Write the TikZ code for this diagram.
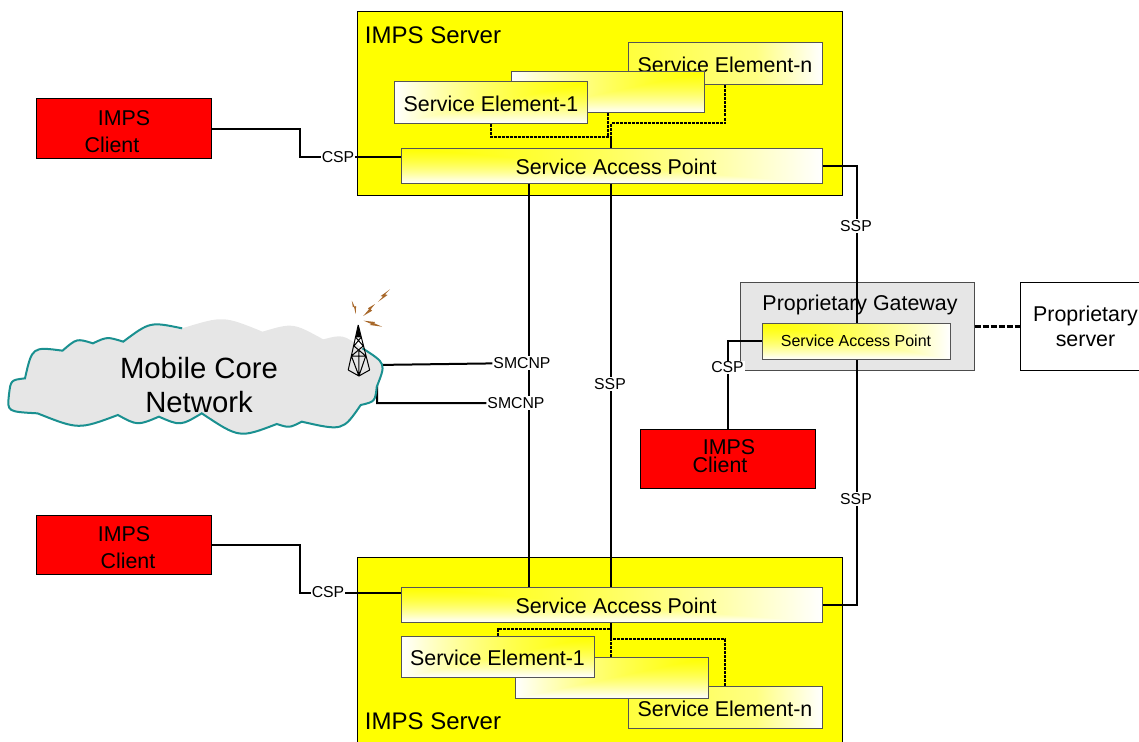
\documentclass[tikz,border=0pt]{standalone}
\usepackage{fontspec}
\setmainfont{Liberation Sans}
\pgfdeclarefunctionalshading{sapshade}{\pgfpoint{-50bp}{-50bp}}{\pgfpoint{50bp}{50bp}}{}{
  25 sub neg 50 div exch 25 add 50 div 2 copy lt {exch} if pop dup dup mul add 2 div 1 1 3 -1 roll }
\pgfdeclarefunctionalshading{elemshade}{\pgfpoint{-50bp}{-50bp}}{\pgfpoint{50bp}{50bp}}{}{
  25 sub neg 50 div exch 25 sub neg 50 div 2 copy lt {exch} if pop dup dup mul add 2 div 1 1 3 -1 roll }
\definecolor{srvyellow}{RGB}{255,255,0}
\definecolor{lastyellow}{RGB}{255,255,60}
\definecolor{lastpale}{RGB}{255,255,130}
\definecolor{clired}{RGB}{255,0,0}
\pgfdeclarehorizontalshading{lastshade}{100bp}{color(0bp)=(lastyellow); color(25bp)=(lastyellow); color(58bp)=(lastpale); color(75bp)=(white); color(100bp)=(white)}
\definecolor{boxline}{HTML}{555555}
\definecolor{cloudgray}{HTML}{E6E6E6}
\definecolor{cloudteal}{HTML}{1A9090}
\definecolor{boltbrown}{HTML}{A8682A}
\tikzset{
  txt/.style={font=\fontsize{21.4}{25}\selectfont, align=center, inner sep=0pt},
  box/.style={txt, draw=boxline, line width=1pt, minimum width=#1, anchor=center, text height=18pt},
  server/.style={txt, draw=black, line width=1pt, fill=srvyellow, minimum width=485pt, minimum height=#1},
  sap/.style={box=421pt, minimum height=35pt, shade, shading=sapshade},
  elem/.style={box=193pt, minimum height=41pt, shade, shading=elemshade},
  lastelem/.style={box=194pt, minimum height=42pt, shade, shading=lastshade},
  client/.style={draw=black, line width=1pt, fill=clired, inner sep=0pt, minimum width=175pt, minimum height=59pt},
  conn/.style={draw=black, line width=2pt},
  dotconn/.style={draw=black, line width=2pt, dash pattern=on 3pt off 1pt},
  tag/.style={font=\fontsize{15.8}{18}\selectfont, fill=white, inner sep=1pt}
}
\newcommand{\cloudedge}{(1015,205) .. controls (1081,250) .. (1055,320)
  .. controls (1050,365) .. (1010,375) .. controls (960,453) .. (845,425)
  .. controls (810,444) .. (775,432) .. controls (670,475) .. (565,400)
  .. controls (505,438) .. (445,410) .. controls (385,437) .. (330,405)
  .. controls (220,449) .. (105,400) .. controls (20,395) .. (25,345)
  .. controls (30,300) .. (70,295) .. controls (90,200) .. (175,212)
  .. controls (215,175) .. (260,190) .. controls (300,170) .. (345,185)
  .. controls (420,125) .. (510,145)}
\begin{document}
\begin{tikzpicture}[x=1pt,y=-1pt]
  \clip (0,0) rectangle (1139,741);
  \node (server1) [server=183pt] at (599.5,103.5) {};
  \node (server2) [server=200pt] at (599.5,657.5) {};
  \node (title1) [txt, font=\fontsize{24}{28}\selectfont] at (433,35) {IMPS Server};
  \node (title2) [txt, font=\fontsize{24}{28}\selectfont] at (433,721) {IMPS Server};

  \node (last1) [lastelem] at (725,64) {Service Element-n};
  \node (mid1) [elem] at (608,92) {};
  \node (first1) [elem] at (491,102.5) {Service Element-1};
  \node (sap1) [sap] at (611.5,165.5) {\hspace*{9pt}Service Access Point};

  \node (last2) [lastelem, text height=19pt] at (725,707) {Service Element-n};
  \node (mid2) [elem] at (611.5,677.5) {};
  \node (first2) [elem] at (497.5,656.5) {Service Element-1};
  \node (sap2) [sap] at (611.5,604.5) {\hspace*{9pt}Service Access Point};

  \node (client1) [client] at (123.5,128.5) {};
  \node (client2) [client] at (123.5,544.5) {};
  \node (client3) [client] at (728,458.5) {};
  \node (imps1) [txt] at (124,118) {IMPS};
  \node (cl1) [txt] at (112,145) {Client};
  \node (imps2) [txt] at (124,534) {IMPS};
  \node (cl2) [txt] at (128,561) {Client};
  \node (imps3) [txt] at (729,447) {IMPS};
  \node (cl3) [txt] at (720,465) {Client};

  \node (gateway) [draw=black!70, line width=1pt, fill=cloudgray, minimum width=234pt, minimum height=88pt] at (857,326) {};
  \node (propserver) [txt, draw=black, line width=1pt, minimum width=131pt, minimum height=88pt] at (1085.5,326) {Proprietary\\server};

  \coordinate (j1) at (611,137);
  \coordinate (j2) at (611,123);
  \coordinate (j3) at (611,629);
  \coordinate (j4) at (611,639);
  \coordinate (v1) at (529,363);
  \coordinate (v2) at (611,384);
  \coordinate (v3) at (857,226);
  \coordinate (c1) at (300,157);
  \coordinate (c2) at (300,592.5);
  \coordinate (c3) at (728,341);
  \coordinate (c4) at (762,341);
  \coordinate (m1) at (375,365);
  \coordinate (m2) at (377,380);

  \draw[dotconn] (first1.south) |- (j1) -- (j1 |- sap1.north);
  \draw[dotconn] (mid1.south) -- (mid1.south |- j1);
  \draw[dotconn] (last1.south) |- (j2) -- (j2 |- sap1.north);
  \draw[conn] (j1) -- (j1 |- sap1.north);
  \draw[dotconn] (first2.north) |- (j3) -- (j3 |- sap2.south);
  \draw[dotconn] (mid2.north -| j3) -- (j3 |- sap2.south);
  \draw[dotconn] (last2.north) |- (j4) -- (j3);
  \draw[conn] (j3 |- sap2.south) -- (j4);

  \path[conn] (sap1.east) -- (sap1.east -| v3) -- (sap2.east -| v3) -- (sap2.east);
  \path[conn] (v1 |- sap1.south) -- (v1 |- sap2.north)
              (v2 |- sap1.south) -- (v2 |- sap2.north);
  \path[conn] (client1.east) -| (c1) -- (c1 -| sap1.west)
              (client2.east) -| (c2) -- (c2 -| sap2.west)
              (client3.north) -- (c3) -- (c4);
  \draw[line width=3pt, dash pattern=on 6pt off 2pt] (gateway.east) -- (propserver.west);

  \node (sapg) [box=188pt, minimum height=36pt, shade, shading=sapshade, text height=12pt, font=\fontsize{16}{18}\selectfont] at (856,341) {Service Access Point};
  \node (gwtitle) [txt] at (860,305) {Proprietary Gateway};

  \node (smcnp1) [tag] at (522,363) {SMCNP};
  \node (smcnp2) [tag] at (516,403) {SMCNP};
  \path[conn] (m1) -- (smcnp1)
              (m2) |- (smcnp2);
  \node (ssp1) [tag] at (856,226) {SSP};
  \node (ssp2) [tag] at (610,384) {SSP};
  \node (ssp3) [tag] at (856,499) {SSP};
  \node (csp1) [tag] at (338,157) {CSP};
  \node (csp2) [tag] at (328,592) {CSP};
  \node (csp3) [tag] at (727.5,367.5) {CSP};

  \begin{scope}[x=0.35714pt,y=-0.33333pt,yshift=-280pt]
    \fill[cloudgray] \cloudedge .. controls (625,107) .. (735,155)
      .. controls (820,128) .. (905,178) .. controls (960,163) .. (1015,205) -- cycle;
    \draw[cloudteal, line width=2pt] \cloudedge;
    \fill[black] (1003,135) -- (996,172) -- (1011,172) -- cycle;
    \draw[black, line width=1pt] (1003,135) -- (975,270) (1003,135) -- (1035,270)
      (996,172) -- (1017,198) (1011,172) -- (991,198)
      (991,198) -- (1024,228) (1017,198) -- (984,228)
      (984,228) -- (1005,288) (1024,228) -- (1005,288)
      (975,270) -- (1005,288) -- (1035,270)
      (984,228) -- (1024,228) (1005,213) -- (1005,288);
    \fill[boltbrown] (1092,28) -- (1066,48) -- (1072,50) -- (1058,66) -- (1085,45) -- (1078,43) -- cycle;
    \fill[boltbrown] (985,62) -- (988,82) -- (991,80) -- (996,102) -- (997,78) -- (993,80) -- cycle;
    \fill[boltbrown] (1050,72) -- (1030,85) -- (1033,88) -- (1017,108) -- (1042,92) -- (1038,88) -- cycle;
    \fill[boltbrown] (1018,122) -- (1040,132) -- (1035,135) -- (1070,140) -- (1048,130) -- (1050,126) -- cycle;
  \end{scope}
  \node (core) [txt, font=\fontsize{29.3}{34}\selectfont] at (199,385) {Mobile Core\\Network};
\end{tikzpicture}
\end{document}
